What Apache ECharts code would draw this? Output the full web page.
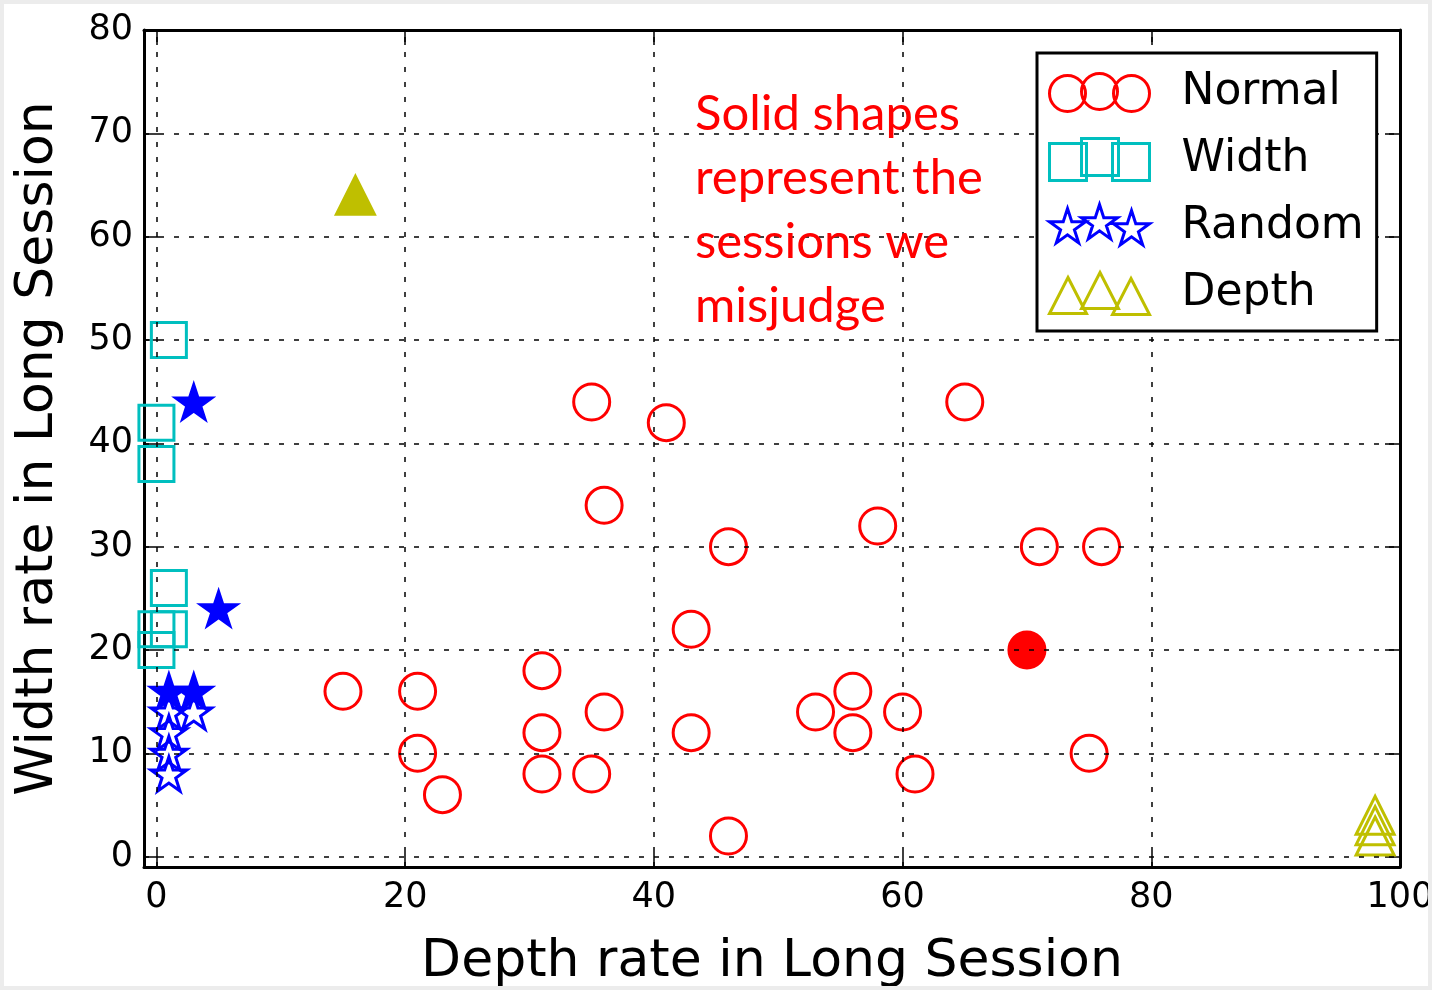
<!DOCTYPE html>
<html>
<head>
<meta charset="utf-8">
<script src="https://cdn.jsdelivr.net/npm/echarts@6/dist/echarts.min.js"></script>
<style>
  html, body { margin: 0; padding: 0; background: #fff; }
  #chart { width: 1432px; height: 990px; }
</style>
</head>
<body>
<div id="chart"></div>
<script>
// tick / grid values
const xTicks = [0, 20, 40, 60, 80, 100];
const yTicks = [0, 10, 20, 30, 40, 50, 60, 70, 80];
const xGrid = [0, 20, 40, 60, 80];
const yGrid = [0, 10, 20, 30, 40, 50, 60, 70];

// hollow = judged right, solid = misjudged
const normalPts = [
  [15, 16], [21, 16], [21, 10], [23, 6], [31, 18], [31, 12], [31, 8], [35, 8],
  [35, 44], [36, 34], [36, 14], [41, 42], [43, 22], [43, 12], [46, 30], [46, 2],
  [53, 14], [56, 16], [56, 12], [58, 32], [60, 14], [61, 8], [65, 44], [71, 30],
  [76, 30], [75, 10]
];
const normalSolid = [[70, 20]];

const widthPts = [[1, 50], [0, 42], [0, 38], [1, 26], [1, 22], [0, 22], [0, 20]];
const widthSolid = [];

const randomPts = [[1, 14], [3, 14], [1, 12], [1, 10], [1, 8]];
const randomSolid = [[3, 44], [5, 24], [1, 16], [3, 16]];

const depthPts = [[98, 4], [98, 3], [98, 2]];
const depthSolid = [[16, 64]];

const RED = '#ff0000', CYAN = '#00bfbf', BLUE = '#0000ff', OLIVE = '#bfbf00';
const FONT = 'DejaVu Sans';

// symbol shapes
function starPath(cx, cy, R) {
  let d = '';
  for (let i = 0; i < 10; i++) {
    const r = i % 2 ? R * 0.382 : R;
    const a = (-90 + i * 36) * Math.PI / 180;
    d += (i ? 'L' : 'M') + (cx + r * Math.cos(a)).toFixed(2) + ',' + (cy + r * Math.sin(a)).toFixed(2);
  }
  return d + 'Z';
}
function circlePath(cx, cy, r) {
  return `M${cx - r},${cy}A${r},${r},0,1,0,${cx + r},${cy}A${r},${r},0,1,0,${cx - r},${cy}Z`;
}
function rectPath(x, y, w, h) {
  return `M${x},${y}L${x + w},${y}L${x + w},${y + h}L${x},${y + h}Z`;
}
function triPath(x, y, w, h) {
  return `M${x + w / 2},${y}L${x + w},${y + h}L${x},${y + h}Z`;
}
const box = 'M0,0M102,44';
const legendIcons = {
  Normal: 'path://' + box + circlePath(19, 23, 18) + circlePath(51, 21, 18) + circlePath(83, 23, 18),
  Width: 'path://' + box + rectPath(1, 6, 37, 37) + rectPath(33, 1, 37, 37) + rectPath(64, 6, 37, 37),
  Random: 'path://' + box + starPath(19, 23, 19) + starPath(51, 19, 19) + starPath(83, 25, 19),
  Depth: 'path://' + box + triPath(1, 6, 37, 36) + triPath(33, 1, 37, 36) + triPath(64, 7, 37, 36)
};
const starSymbol = 'path://' + starPath(50, 50, 50);

function pts(hollow, solid, color) {
  return hollow.map(p => p).concat(solid.map(p => ({ value: p, itemStyle: { color: color } })));
}
function series(name, symbol, size, color, hollow, solid) {
  return {
    name: name,
    type: 'scatter',
    symbol: symbol,
    symbolSize: size,
    itemStyle: { color: 'rgba(0,0,0,0)', borderColor: color, borderWidth: 3, opacity: 1 },
    emphasis: { disabled: true },
    data: pts(hollow, solid, color)
  };
}

const chart = echarts.init(document.getElementById('chart'));

const axisCommon = {
  type: 'value',
  axisLine: { show: true, onZero: false, lineStyle: { color: '#000', width: 3 } },
  axisTick: { show: true, inside: true, length: 15, lineStyle: { color: '#000', width: 1.5 } },
  splitLine: { show: false }
};

const seriesList = [
  series('Normal', 'circle', 36, RED, normalPts, normalSolid),
  series('Width', 'rect', 35, CYAN, widthPts, widthSolid),
  series('Random', starSymbol, [36, 34], BLUE, randomPts, randomSolid),
  series('Depth', 'triangle', 38, OLIVE, depthPts, depthSolid)
];
seriesList[0].markLine = {
  silent: true,
  symbol: ['none', 'none'],
  label: { show: false },
  animation: false,
  lineStyle: { color: '#000', width: 1.5, type: [5, 10], opacity: 1 },
  data: xGrid.map(v => ({ xAxis: v })).concat(yGrid.map(v => ({ yAxis: v })))
};

chart.setOption({
  animation: false,
  backgroundColor: '#fff',
  grid: { left: 144, right: 32, top: 30, bottom: 123, outerBoundsMode: 'none', containLabel: false },
  xAxis: [
    Object.assign({}, axisCommon, {
      min: -1, max: 100, position: 'bottom',
      axisTick: Object.assign({}, axisCommon.axisTick, { customValues: xTicks }),
      axisLabel: { customValues: xTicks, fontSize: 35, fontFamily: FONT, color: '#000', margin: 13 },
      name: 'Depth rate in Long Session',
      nameLocation: 'middle',
      nameGap: 69,
      nameTextStyle: { fontSize: 52, fontFamily: FONT, color: '#000' }
    }),
    Object.assign({}, axisCommon, {
      min: -1, max: 100, position: 'top',
      axisTick: Object.assign({}, axisCommon.axisTick, { customValues: xTicks }),
      axisLabel: { show: false }
    })
  ],
  yAxis: [
    Object.assign({}, axisCommon, {
      min: -1, max: 80, position: 'left',
      axisTick: Object.assign({}, axisCommon.axisTick, { customValues: yTicks }),
      axisLabel: { customValues: yTicks, fontSize: 35, fontFamily: FONT, color: '#000', margin: 11 },
      name: 'Width rate in Long Session',
      nameLocation: 'middle',
      nameGap: 80,
      nameTextStyle: { fontSize: 52, fontFamily: FONT, color: '#000' }
    }),
    Object.assign({}, axisCommon, {
      min: -1, max: 80, position: 'right',
      axisTick: Object.assign({}, axisCommon.axisTick, { customValues: yTicks }),
      axisLabel: { show: false }
    })
  ],
  legend: {
    orient: 'vertical',
    left: 1037,
    top: 53,
    z: 10,
    padding: [16, 13, 14, 10],
    backgroundColor: '#fff',
    borderColor: '#000',
    borderWidth: 3,
    itemGap: 20,
    itemWidth: 102,
    itemHeight: 44,
    selectedMode: false,
    itemStyle: { borderWidth: 3, opacity: 1 },
    textStyle: { fontSize: 44, fontFamily: FONT, color: '#000', lineHeight: 44, padding: [0, 0, 0, 26] },
    data: ['Normal', 'Width', 'Random', 'Depth'].map(n => ({ name: n, icon: legendIcons[n] }))
  },
  graphic: [
    {
      type: 'text',
      left: 695,
      top: 82,
      z: 10,
      style: {
        text: 'Solid shapes\nrepresent the\nsessions we\nmisjudge',
        fontSize: 49,
        fontFamily: 'Lato',
        lineHeight: 64,
        fill: RED
      }
    },
    {
      type: 'rect',
      z: 100,
      silent: true,
      shape: { x: 0, y: 0, width: 1432, height: 990 },
      style: { fill: 'none', stroke: '#ececec', lineWidth: 8 }
    }
  ],
  series: seriesList
});
</script>
</body>
</html>
